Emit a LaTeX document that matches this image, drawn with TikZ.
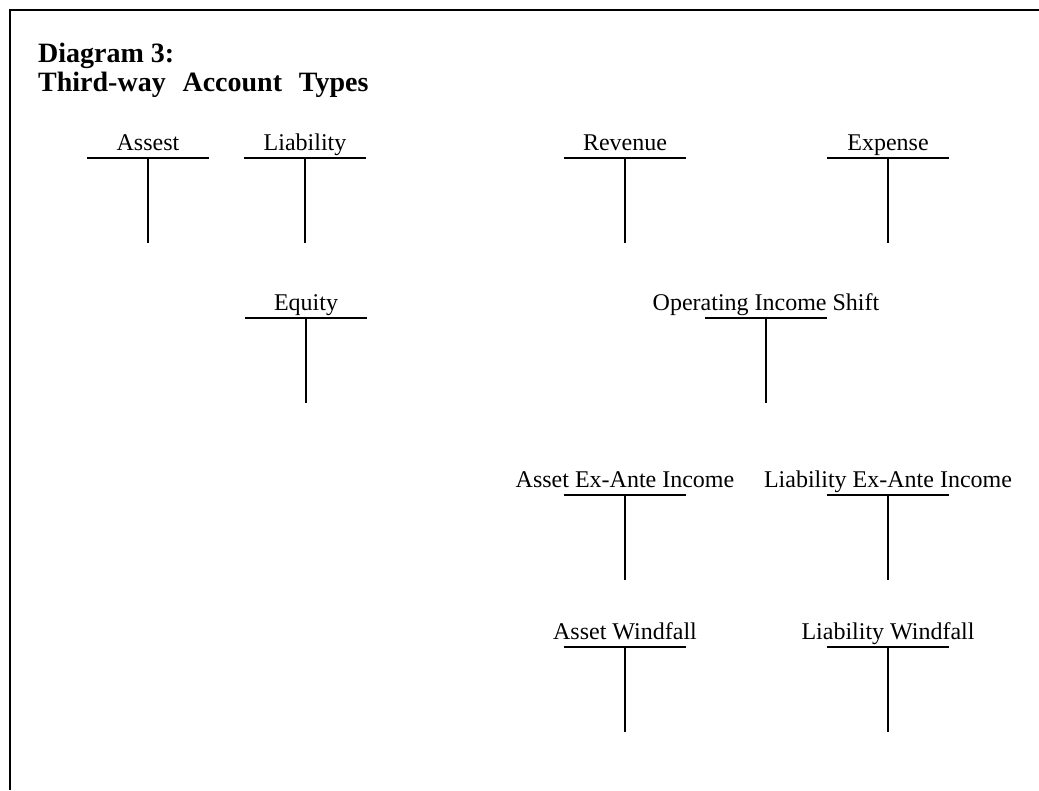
\documentclass[tikz,border=0pt]{standalone}
\usepackage{fontspec}
\setmainfont{Liberation Serif}
\newcommand{\taccount}[4]{% name, x, y, label
  \coordinate (#1) at (#2,#3);
  \node[tlabel] (#1-lab) at ([yshift=8pt]#1) {#4};
  \draw[tline] ([xshift=-61pt]#1) -- ([xshift=61pt]#1);
  \draw[tline] (#1) -- ++(0,85) coordinate (#1-bot);
}
\begin{document}
\begin{tikzpicture}[x=1pt,y=-1pt,
  tline/.style={line width=1.8pt},
  tlabel/.style={anchor=base,inner sep=0pt,font=\fontsize{24}{28}\selectfont},
  titletext/.style={anchor=base west,inner sep=0pt,font=\bfseries\fontsize{28}{32}\selectfont},
  frame/.style={line width=2.2pt,line join=miter}]
\useasboundingbox (0,0) rectangle (1039,790);
\coordinate (fr-tr) at (1039,10);
\coordinate (fr-tl) at (10,10);
\coordinate (fr-bl) at (10,790);
\draw[frame] (fr-tr) -- (fr-tl) -- (fr-bl);
\node[titletext] (title1) at (38,62) {Diagram 3:};
\node[titletext] (title2) at (38,91) {Third-way\hspace{0.6em}Account\hspace{0.6em}Types};
\taccount{assets}{148}{158}{Assest}
\taccount{liab}{305}{158}{Liability}
\taccount{rev}{625}{158}{Revenue}
\taccount{exp}{888}{158}{Expense}
\taccount{equity}{306}{318}{Equity}
\taccount{ois}{766}{318}{Operating Income Shift}
\taccount{aeai}{625}{495}{Asset Ex-Ante Income}
\taccount{leai}{888}{495}{Liability Ex-Ante Income}
\taccount{aw}{625}{647}{Asset Windfall}
\taccount{lw}{888}{647}{Liability Windfall}
\end{tikzpicture}
\end{document}
